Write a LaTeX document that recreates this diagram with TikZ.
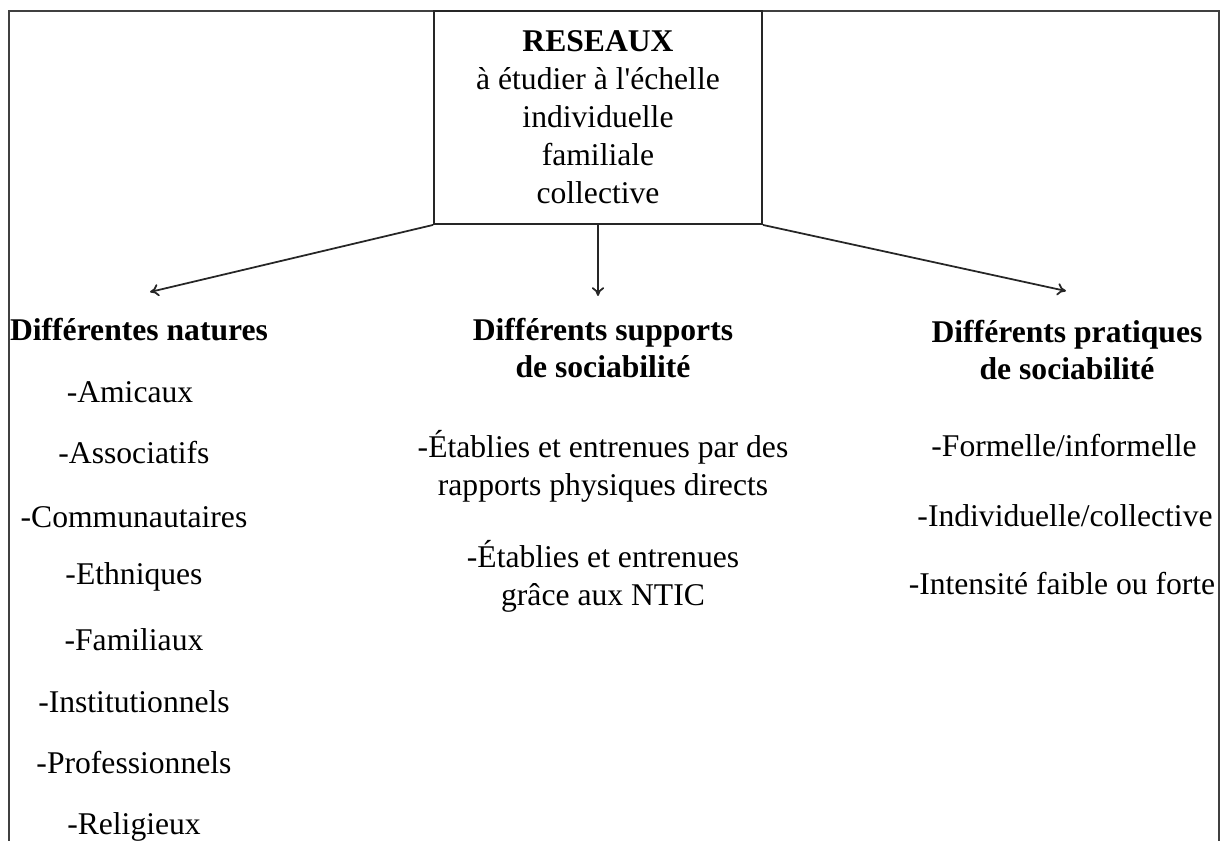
\documentclass[tikz,border=0pt]{standalone}
\usepackage{fontspec}
\setmainfont{Liberation Serif}
\usetikzlibrary{arrows.meta}

\begin{document}
\begin{tikzpicture}[x=0.02cm,y=-0.02cm,
  txt/.style={inner sep=0pt, align=center, font=\fontsize{18}{21.6}\selectfont},
  titre/.style={txt, font=\fontsize{18}{21.6}\selectfont\bfseries},
  fleche/.style={line width=1pt, black!85, -{To[length=5pt,width=7pt]}}]

\useasboundingbox (0,0) rectangle (1228,841);

\draw[line width=0.9pt, black!75] (9,841) -- (9,11) -- (1219,11) -- (1219,841);

\node[draw, line width=1.1pt, black!85, text=black, minimum width=6.56cm, minimum height=4.26cm, txt] (reseaux) at (598,117.5)
  {\textbf{RESEAUX}\\à étudier à l\textquotesingle échelle\\individuelle\\familiale\\collective};

\coordinate (natures) at (150,292);
\coordinate (supports) at (598,296);
\coordinate (pratiques) at (1066,291);

\draw[fleche] (reseaux.south west) -- (natures);
\draw[fleche] (reseaux.south) -- (supports);
\draw[fleche] (reseaux.south east) -- (pratiques);

\node[titre] (tnat) at (139,330) {Différentes natures};
\node[txt] (amicaux) at (130,392) {-Amicaux};
\node[txt] (assoc) at (134,453) {-Associatifs};
\node[txt] (commu) at (134,517) {-Communautaires};
\node[txt] (ethn) at (134,577) {-Ethniques};
\node[txt] (famil) at (134,640) {-Familiaux};
\node[txt] (instit) at (134,702) {-Institutionnels};
\node[txt] (profes) at (134,763) {-Professionnels};
\node[txt] (relig) at (134,827) {-Religieux};

\node[titre] (tsup) at (603,348) {Différents supports\\de sociabilité};
\node[txt] (physique) at (603,466) {-Établies et entrenues par des\\rapports physiques directs};
\node[txt] (ntic) at (603,576) {-Établies et entrenues\\grâce aux NTIC};

\node[titre] (tprat) at (1067,350) {Différents pratiques\\de sociabilité};
\node[txt] (formel) at (1064,446) {-Formelle/informelle};
\node[txt] (indiv) at (1065,516) {-Individuelle/collective};
\node[txt] (intens) at (1062,584) {-Intensité faible ou forte};

\end{tikzpicture}
\end{document}
